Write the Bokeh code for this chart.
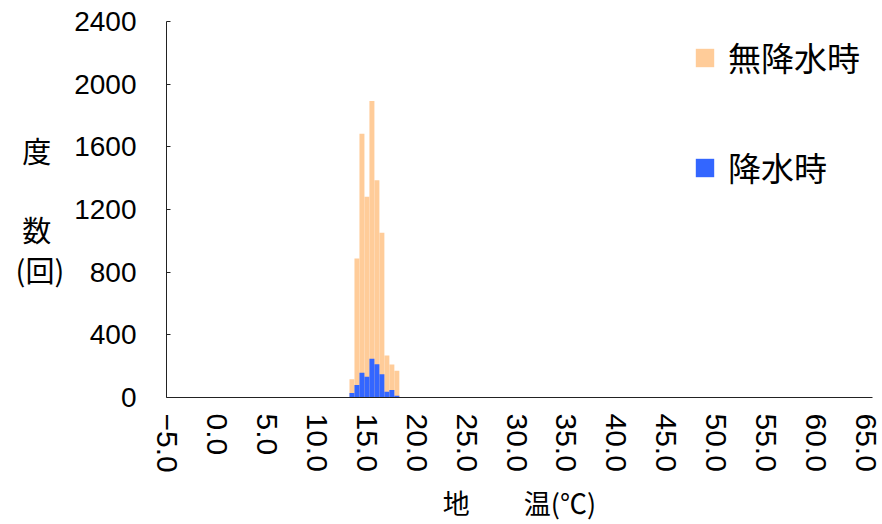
from bokeh.plotting import figure
from bokeh.models import Range1d, FixedTicker
from bokeh.embed import file_html
from bokeh.resources import INLINE

# ---- data ----
bins = [13.5, 14.0, 14.5, 15.0, 15.5, 16.0, 16.5, 17.0, 17.5, 18.0]
no_rain = [117, 887, 1683, 1281, 1893, 1387, 1051, 268, 211, 170]
rain = [29, 80, 158, 133, 248, 212, 148, 37, 48, 11]
x_ticks = [-5, 0, 5, 10, 15, 20, 25, 30, 35, 40, 45, 50, 55, 60, 65]
x_tick_labels = ["\u22125.0", "0.0", "5.0", "10.0", "15.0", "20.0", "25.0", "30.0",
                 "35.0", "40.0", "45.0", "50.0", "55.0", "60.0", "65.0"]
y_ticks = [0, 400, 800, 1200, 1600, 2000, 2400]
series_names = ["無降水時", "降水時"]
colors = ["#FFCC99", "#3366FF"]
x_title = "地　　温(℃)"
y_title = "度\u00a0\u00a0\n\n数\u00a0\u00a0\n(回)"

NUM_FONT = "Liberation Sans"
JP_FONT = "Noto Sans CJK JP"

p = figure(width=882, height=524, output_backend="svg", toolbar_location=None,
           x_range=Range1d(-5.1, 65.7), y_range=Range1d(0, 2400),
           min_border_left=166, min_border_right=10, min_border_top=21, min_border_bottom=127)
p.outline_line_color = None
p.xgrid.visible = False
p.ygrid.visible = False

p.vbar(x=bins, top=no_rain, width=0.5, fill_color=colors[0], line_color=None,
       legend_label=series_names[0])
p.vbar(x=bins, top=rain, width=0.5, fill_color=colors[1], line_color=None,
       legend_label=series_names[1])

# x axis
p.xaxis.ticker = FixedTicker(ticks=x_ticks)
p.xaxis.major_label_overrides = {t: l for t, l in zip(x_ticks, x_tick_labels)}
p.xaxis.major_label_orientation = "vertical"
p.xaxis.major_tick_in = 0
p.xaxis.major_tick_out = 0
p.xaxis.minor_tick_in = 0
p.xaxis.minor_tick_out = 0
p.xaxis.major_label_standoff = 16
p.xaxis.major_label_text_font = NUM_FONT
p.xaxis.major_label_text_font_size = "30px"
p.xaxis.major_label_text_color = "black"
p.xaxis.axis_line_color = "#222222"
p.xaxis.axis_label = x_title
p.xaxis.axis_label_standoff = 7
p.xaxis.axis_label_text_font = JP_FONT
p.xaxis.axis_label_text_font_size = "27px"
p.xaxis.axis_label_text_font_style = "normal"
p.xaxis.axis_label_text_color = "black"

# y axis
p.yaxis.ticker = FixedTicker(ticks=y_ticks)
p.yaxis.major_tick_in = 4
p.yaxis.major_tick_out = 0
p.yaxis.minor_tick_in = 0
p.yaxis.minor_tick_out = 0
p.yaxis.major_label_standoff = 30
p.yaxis.major_label_text_font = NUM_FONT
p.yaxis.major_label_text_font_size = "28px"
p.yaxis.major_label_text_color = "black"
p.yaxis.axis_line_color = "#222222"
p.yaxis.major_tick_line_color = "#222222"
p.yaxis.axis_label = y_title
p.yaxis.axis_label_orientation = "horizontal"
p.yaxis.axis_label_standoff = 7
p.yaxis.axis_label_text_font = JP_FONT
p.yaxis.axis_label_text_font_size = "29px"
p.yaxis.axis_label_text_font_style = "normal"
p.yaxis.axis_label_text_color = "black"
p.yaxis.axis_label_text_line_height = 0.95

# legend
lg = p.legend[0]
lg.location = "top_right"
lg.border_line_color = None
lg.background_fill_alpha = 0
lg.margin = 12
lg.padding = 0
lg.glyph_width = 23
lg.glyph_height = 23
lg.label_standoff = 12
lg.spacing = 62
lg.label_text_font = JP_FONT
lg.label_text_font_size = "33px"
lg.label_text_color = "black"

open("out.html", "w").write(file_html(p, INLINE))
